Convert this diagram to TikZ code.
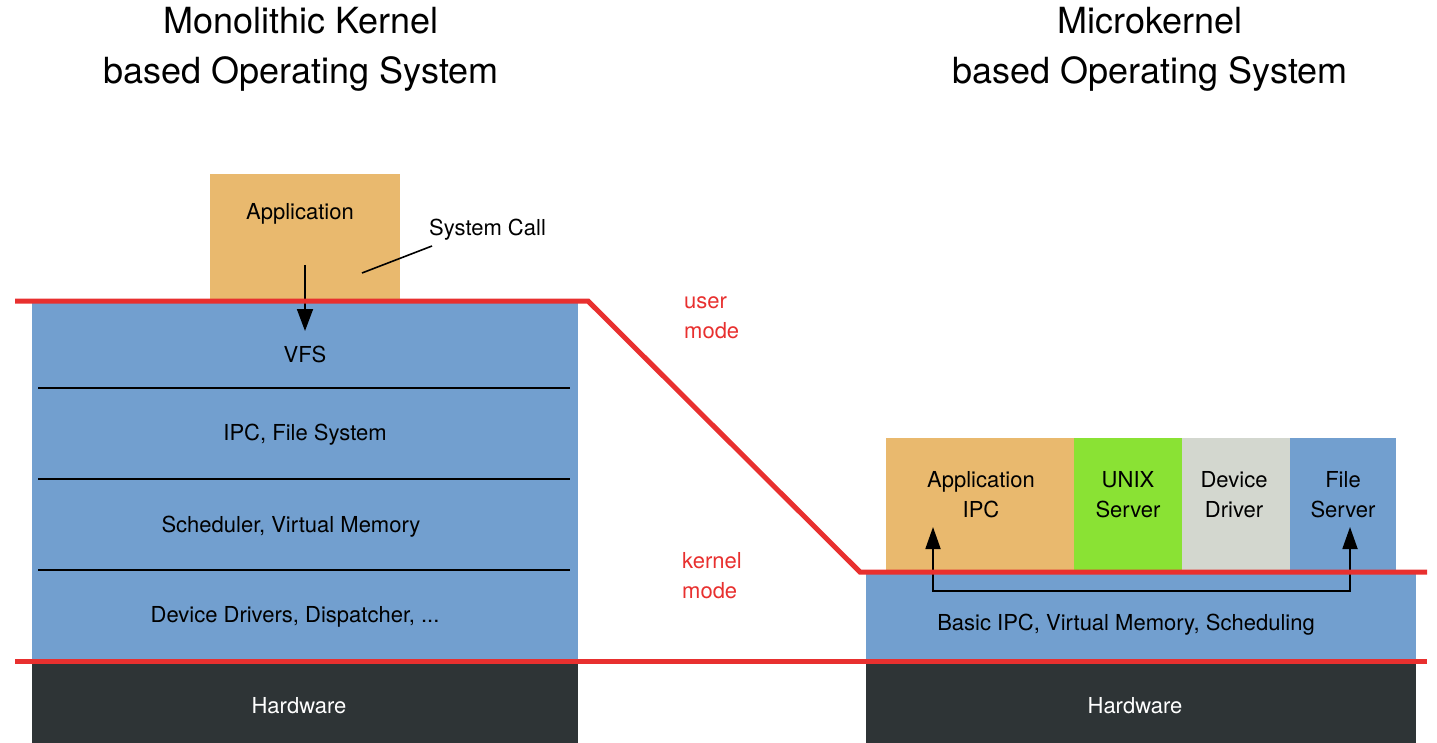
\documentclass[tikz,border=0pt]{standalone}
\usepackage{fontspec}
\setmainfont{TeX Gyre Heros}
\usetikzlibrary{arrows.meta}
\definecolor{appOrange}{HTML}{E9B96E}
\definecolor{kernBlue}{HTML}{729FCF}
\definecolor{srvGreen}{HTML}{8AE234}
\definecolor{drvGray}{HTML}{D3D7CF}
\definecolor{hwDark}{HTML}{2E3436}
\definecolor{modeRed}{HTML}{E8302F}
\begin{document}
\begin{tikzpicture}[x=1pt,y=-1pt,
  block/.style={draw=none, inner sep=0pt, outer sep=0pt, anchor=north west},
  body/.style={font=\fontsize{22}{30}\selectfont, align=center, inner sep=0pt},
  title/.style={font=\fontsize{36}{50}\selectfont, align=center, inner sep=0pt},
  redtext/.style={font=\fontsize{22}{30}\selectfont, align=left, text=modeRed, inner sep=0pt, anchor=west},
  boundary/.style={draw=modeRed, line width=5pt},
  divider/.style={draw=black, line width=1.6pt},
  callarrow/.style={draw=black, line width=1.8pt, -{Triangle[length=22pt,width=16pt]}},
  ipcarrow/.style={draw=black, line width=1.8pt, {Triangle[length=22pt,width=15pt]}-{Triangle[length=22pt,width=15pt]}}]
\useasboundingbox (0,0) rectangle (1437,743);

% titles
\node[title] (ttlMono) at (301,49) {Monolithic Kernel\\based Operating System};
\node[title] (ttlMicro) at (1150,49) {Microkernel\\based Operating System};

% ---- monolithic side ----
\node[block, fill=appOrange, minimum width=190pt, minimum height=128pt] (app) at (210,174) {};
\node[block, fill=kernBlue, minimum width=546pt, minimum height=360pt] (mono) at (32,301) {};
\node[block, fill=hwDark, minimum width=546pt, minimum height=82pt] (hwL) at (32,662) {};

\draw[divider] (38,388) -- (570,388);
\draw[divider] (38,479) -- (570,479);
\draw[divider] (38,570) -- (570,570);

\node[body] (appTxt) at (300,214) {Application};
\node[body, anchor=west] (sysCall) at (429,230) {System Call};
\node[body] (vfs) at (305,354) {VFS};
\node[body] (ipcFs) at (305,435) {IPC, File System};
\node[body] (sched) at (291,527) {Scheduler, Virtual Memory};
\node[body] (drivers) at (295,617) {Device Drivers, Dispatcher, ...};
\node[body, text=white] (hwTxtL) at (299,706) {Hardware};

\coordinate (callFrom) at (362,273);
\coordinate (callTo) at (432,246);
\draw[line width=1.6pt] (callFrom) -- (callTo);

\coordinate (sysStart) at (305,265);
\coordinate (sysEnd) at (305,331);
\draw[callarrow] (sysStart) -- (sysEnd);

% ---- microkernel side ----
\node[block, fill=appOrange, minimum width=188pt, minimum height=136pt] (uApp) at (886,438) {};
\node[block, fill=srvGreen, minimum width=108pt, minimum height=136pt] (unix) at (1074,438) {};
\node[block, fill=drvGray, minimum width=108pt, minimum height=136pt] (devDrv) at (1182,438) {};
\node[block, fill=kernBlue, minimum width=106pt, minimum height=136pt] (fileSrv) at (1290,438) {};
\node[block, fill=kernBlue, minimum width=550pt, minimum height=90pt] (micro) at (866,572) {};
\node[block, fill=hwDark, minimum width=550pt, minimum height=82pt] (hwR) at (866,662) {};

\node[body] (uAppTxt) at (981,495) {Application\\IPC};
\node[body] (unixTxt) at (1128,495) {UNIX\\Server};
\node[body] (devTxt) at (1234,495) {Device\\Driver};
\node[body] (fileTxt) at (1343,495) {File\\Server};
\node[body] (basic) at (1126,625) {Basic IPC, Virtual Memory, Scheduling};
\node[body, text=white] (hwTxtR) at (1135,706) {Hardware};

\coordinate (ipcA) at (933,527);
\coordinate (ipcB) at (1350,527);
\draw[ipcarrow] (ipcA) -- (933,591) -- (1350,591) -- (ipcB);

% mode boundaries
\coordinate (bTopL) at (15,301);
\coordinate (bKneeA) at (588,301);
\coordinate (bKneeB) at (860,572);
\coordinate (bTopR) at (1427,572);
\draw[boundary] (bTopL) -- (bKneeA) -- (bKneeB) -- (bTopR);
\coordinate (bBotL) at (15,661);
\coordinate (bBotR) at (1427,661);
\draw[boundary] (bBotL) -- (bBotR);

\node[redtext] (userMode) at (684,318) {user\\mode};
\node[redtext] (kernMode) at (682,576) {kernel\\mode};
\end{tikzpicture}
\end{document}
